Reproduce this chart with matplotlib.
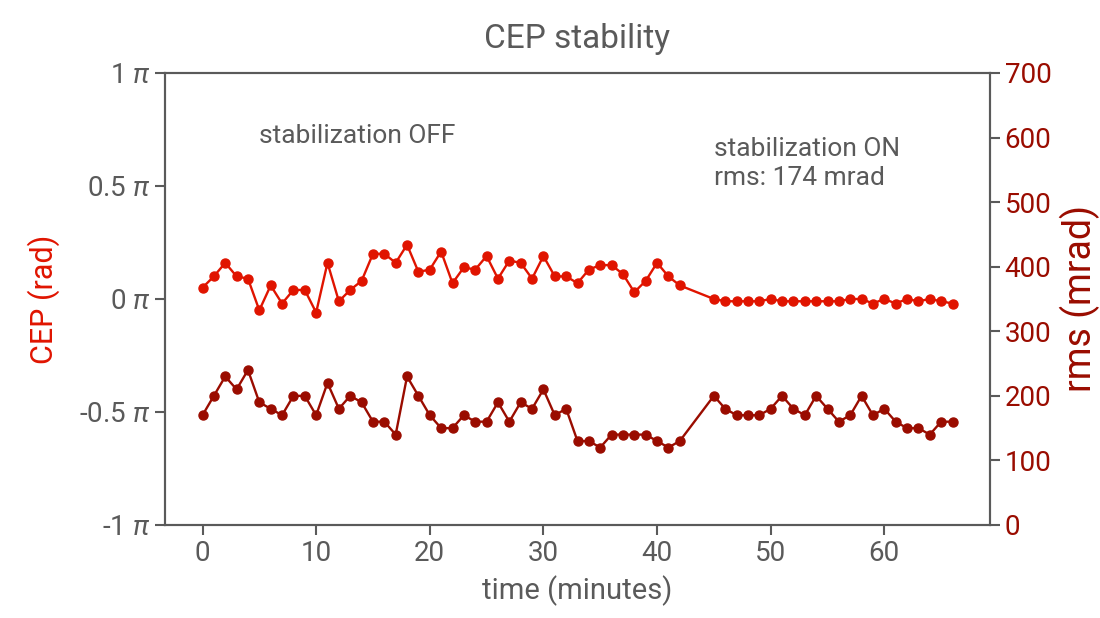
import numpy as np
import matplotlib.pyplot as plt

plt.rcParams["font.family"] = ["Roboto", "DejaVu Sans"]
plt.rcParams["mathtext.fontset"] = "custom"
plt.rcParams["mathtext.it"] = "Roboto:italic"
plt.rcParams["mathtext.rm"] = "Roboto"

gray = "#5a5a5a"
red = "#e01400"
darkred = "#9a0c00"

# time in minutes (one sample per minute, gap 43-44)
time_min = [0, 1, 2, 3, 4, 5, 6, 7, 8, 9, 10, 11, 12, 13, 14, 15, 16, 17, 18, 19,
            20, 21, 22, 23, 24, 25, 26, 27, 28, 29, 30, 31, 32, 33, 34, 35, 36, 37,
            38, 39, 40, 41, 42, 45, 46, 47, 48, 49, 50, 51, 52, 53, 54, 55, 56, 57,
            58, 59, 60, 61, 62, 63, 64, 65, 66]

# CEP in units of pi
cep_pi = [0.05, 0.10, 0.16, 0.10, 0.09, -0.05, 0.06, -0.02, 0.04, 0.04,
          -0.06, 0.16, -0.01, 0.04, 0.08, 0.20, 0.20, 0.16, 0.24, 0.12,
          0.13, 0.21, 0.07, 0.14, 0.13, 0.19, 0.09, 0.17, 0.16, 0.09,
          0.19, 0.10, 0.10, 0.07, 0.13, 0.15, 0.15, 0.11, 0.03, 0.08,
          0.16, 0.10, 0.06, 0.00, -0.01, -0.01, -0.01, -0.01, 0.00, -0.01,
          -0.01, -0.01, -0.01, -0.01, -0.01, 0.00, 0.00, -0.02, 0.00, -0.02,
          0.00, -0.01, 0.00, -0.01, -0.02]

# rms in mrad
rms_mrad = [170, 200, 230, 210, 240, 190, 180, 170, 200, 200,
            170, 220, 180, 200, 190, 160, 160, 140, 230, 200,
            170, 150, 150, 170, 160, 160, 190, 160, 190, 180,
            210, 170, 180, 130, 130, 120, 140, 140, 140, 140,
            130, 120, 130, 200, 180, 170, 170, 170, 180, 200,
            180, 170, 200, 180, 160, 170, 200, 170, 180, 160,
            150, 150, 140, 160, 160]

left_ticks = [-1, -0.5, 0, 0.5, 1]
left_labels = [r"-1 $\pi$", r"-0.5 $\pi$", r"0 $\pi$", r"0.5 $\pi$", r"1 $\pi$"]
right_ticks = [0, 100, 200, 300, 400, 500, 600, 700]

fig = plt.figure(figsize=(11, 6.18), dpi=100)
ax = fig.add_axes([0.15, 0.1505, 0.75, 0.7314])
ax2 = ax.twinx()

ax.plot(time_min, cep_pi, "-o", color=red, lw=1.7, ms=6.5)
ax2.plot(time_min, rms_mrad, "-o", color=darkred, lw=1.7, ms=6.5)

ax.set_ylim(-1, 1)
ax.set_yticks(left_ticks)
ax.set_yticklabels(left_labels)
ax2.set_ylim(0, 700)
ax2.set_yticks(right_ticks)
ax.set_xticks([0, 10, 20, 30, 40, 50, 60])

for a in (ax, ax2):
    for s in a.spines.values():
        s.set_color(gray)
        s.set_linewidth(1.5)
    a.tick_params(colors=gray, width=1.5, length=7, labelsize=20)
ax2.tick_params(axis="y", labelcolor=darkred)

ax.set_xlabel("time (minutes)", fontsize=21, color=gray, labelpad=6)
ax.set_ylabel("CEP (rad)", fontsize=22, color=red, labelpad=14)
ax2.set_ylabel("rms (mrad)", fontsize=27, color=darkred, labelpad=6)
ax.set_title("CEP stability", fontsize=24, color=gray, pad=18)

ax.text(5.0, 0.72, "stabilization OFF", fontsize=19, color=gray, va="center")
ax.text(45.0, 0.60, "stabilization ON\nrms: 174 mrad", fontsize=19, color=gray,
        va="center", linespacing=1.3)

fig.savefig("out.png", dpi=100)
